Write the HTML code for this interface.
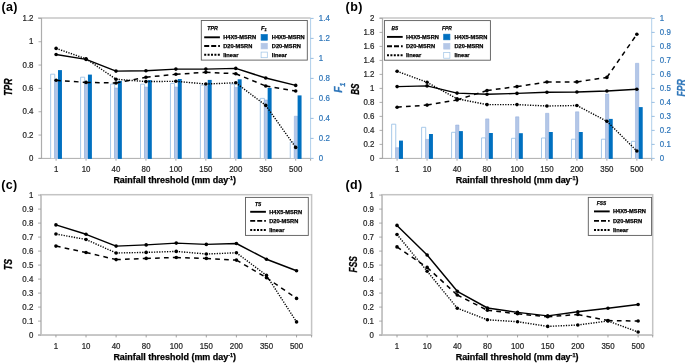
<!DOCTYPE html><html><head><meta charset="utf-8"><style>html,body{margin:0;padding:0;background:#fff;}svg{display:block;will-change:transform;} text{font-family:"Liberation Sans", sans-serif;} .lg{stroke:#000;stroke-width:0.25px;} .nm{stroke-width:0.22px;}</style></head><body>
<svg width="685" height="363" viewBox="0 0 685 363">
<rect width="685" height="363" fill="#fff"/>
<line x1="38" y1="18.1" x2="310.6" y2="18.1" stroke="#D4D4D4" stroke-width="2"/>
<line x1="38.5" y1="158.4" x2="310.6" y2="158.4" stroke="#ADADAD" stroke-width="1.0"/>
<line x1="56.1" y1="158.4" x2="56.1" y2="160.7" stroke="#8C8C8C" stroke-width="0.8"/>
<line x1="86.05" y1="158.4" x2="86.05" y2="160.7" stroke="#8C8C8C" stroke-width="0.8"/>
<line x1="116.0" y1="158.4" x2="116.0" y2="160.7" stroke="#8C8C8C" stroke-width="0.8"/>
<line x1="145.95" y1="158.4" x2="145.95" y2="160.7" stroke="#8C8C8C" stroke-width="0.8"/>
<line x1="175.9" y1="158.4" x2="175.9" y2="160.7" stroke="#8C8C8C" stroke-width="0.8"/>
<line x1="205.85" y1="158.4" x2="205.85" y2="160.7" stroke="#8C8C8C" stroke-width="0.8"/>
<line x1="235.8" y1="158.4" x2="235.8" y2="160.7" stroke="#8C8C8C" stroke-width="0.8"/>
<line x1="265.75" y1="158.4" x2="265.75" y2="160.7" stroke="#8C8C8C" stroke-width="0.8"/>
<line x1="295.7" y1="158.4" x2="295.7" y2="160.7" stroke="#8C8C8C" stroke-width="0.8"/>
<line x1="310.6" y1="158.4" x2="310.6" y2="160.7" stroke="#8C8C8C" stroke-width="0.8"/>
<text class="nm" stroke="#262626" x="56.1" y="172.4" font-size="8.4" fill="#262626" text-anchor="middle" textLength="4.39" lengthAdjust="spacingAndGlyphs">1</text>
<text class="nm" stroke="#262626" x="86.05" y="172.4" font-size="8.4" fill="#262626" text-anchor="middle" textLength="8.78" lengthAdjust="spacingAndGlyphs">10</text>
<text class="nm" stroke="#262626" x="116.0" y="172.4" font-size="8.4" fill="#262626" text-anchor="middle" textLength="8.78" lengthAdjust="spacingAndGlyphs">40</text>
<text class="nm" stroke="#262626" x="145.95" y="172.4" font-size="8.4" fill="#262626" text-anchor="middle" textLength="8.78" lengthAdjust="spacingAndGlyphs">80</text>
<text class="nm" stroke="#262626" x="175.9" y="172.4" font-size="8.4" fill="#262626" text-anchor="middle" textLength="13.18" lengthAdjust="spacingAndGlyphs">100</text>
<text class="nm" stroke="#262626" x="205.85" y="172.4" font-size="8.4" fill="#262626" text-anchor="middle" textLength="13.18" lengthAdjust="spacingAndGlyphs">150</text>
<text class="nm" stroke="#262626" x="235.8" y="172.4" font-size="8.4" fill="#262626" text-anchor="middle" textLength="13.18" lengthAdjust="spacingAndGlyphs">200</text>
<text class="nm" stroke="#262626" x="265.75" y="172.4" font-size="8.4" fill="#262626" text-anchor="middle" textLength="13.18" lengthAdjust="spacingAndGlyphs">350</text>
<text class="nm" stroke="#262626" x="295.7" y="172.4" font-size="8.4" fill="#262626" text-anchor="middle" textLength="13.18" lengthAdjust="spacingAndGlyphs">500</text>
<text x="113.4" y="183.0" font-size="8.6" font-weight="bold" fill="#000" stroke="#000" stroke-width="0.25" textLength="122.6" lengthAdjust="spacingAndGlyphs">Rainfall threshold (mm day<tspan font-size="5.2" dy="-3">-1</tspan><tspan dy="3">)</tspan></text>
<line x1="41.5" y1="158.4" x2="41.5" y2="18.2" stroke="#ADADAD" stroke-width="1.2"/>
<line x1="38.5" y1="158.4" x2="41.5" y2="158.4" stroke="#9A9A9A" stroke-width="0.8"/>
<text class="nm" stroke="#262626" x="33.5" y="161.0" font-size="8.4" fill="#262626" text-anchor="end" textLength="4.39" lengthAdjust="spacingAndGlyphs">0</text>
<line x1="38.5" y1="135.07" x2="41.5" y2="135.07" stroke="#9A9A9A" stroke-width="0.8"/>
<text class="nm" stroke="#262626" x="33.5" y="137.67" font-size="8.4" fill="#262626" text-anchor="end" textLength="10.98" lengthAdjust="spacingAndGlyphs">0.2</text>
<line x1="38.5" y1="111.73" x2="41.5" y2="111.73" stroke="#9A9A9A" stroke-width="0.8"/>
<text class="nm" stroke="#262626" x="33.5" y="114.33" font-size="8.4" fill="#262626" text-anchor="end" textLength="10.98" lengthAdjust="spacingAndGlyphs">0.4</text>
<line x1="38.5" y1="88.4" x2="41.5" y2="88.4" stroke="#9A9A9A" stroke-width="0.8"/>
<text class="nm" stroke="#262626" x="33.5" y="91" font-size="8.4" fill="#262626" text-anchor="end" textLength="10.98" lengthAdjust="spacingAndGlyphs">0.6</text>
<line x1="38.5" y1="65.06" x2="41.5" y2="65.06" stroke="#9A9A9A" stroke-width="0.8"/>
<text class="nm" stroke="#262626" x="33.5" y="67.66" font-size="8.4" fill="#262626" text-anchor="end" textLength="10.98" lengthAdjust="spacingAndGlyphs">0.8</text>
<line x1="38.5" y1="41.73" x2="41.5" y2="41.73" stroke="#9A9A9A" stroke-width="0.8"/>
<text class="nm" stroke="#262626" x="33.5" y="44.33" font-size="8.4" fill="#262626" text-anchor="end" textLength="4.39" lengthAdjust="spacingAndGlyphs">1</text>
<line x1="38.5" y1="18.4" x2="41.5" y2="18.4" stroke="#9A9A9A" stroke-width="0.8"/>
<text class="nm" stroke="#262626" x="33.5" y="21" font-size="8.4" fill="#262626" text-anchor="end" textLength="10.98" lengthAdjust="spacingAndGlyphs">1.2</text>
<line x1="310.6" y1="158.4" x2="310.6" y2="18.2" stroke="#B0CFEA" stroke-width="1"/>
<line x1="310.6" y1="158.4" x2="313.6" y2="158.4" stroke="#8DB8E0" stroke-width="0.9"/>
<text class="nm" stroke="#3077BA" x="318.8" y="161.0" font-size="8.4" fill="#3077BA" textLength="4.39" lengthAdjust="spacingAndGlyphs">0</text>
<line x1="310.6" y1="138.4" x2="313.6" y2="138.4" stroke="#8DB8E0" stroke-width="0.9"/>
<text class="nm" stroke="#3077BA" x="318.8" y="141.0" font-size="8.4" fill="#3077BA" textLength="10.98" lengthAdjust="spacingAndGlyphs">0.2</text>
<line x1="310.6" y1="118.4" x2="313.6" y2="118.4" stroke="#8DB8E0" stroke-width="0.9"/>
<text class="nm" stroke="#3077BA" x="318.8" y="121.0" font-size="8.4" fill="#3077BA" textLength="10.98" lengthAdjust="spacingAndGlyphs">0.4</text>
<line x1="310.6" y1="98.4" x2="313.6" y2="98.4" stroke="#8DB8E0" stroke-width="0.9"/>
<text class="nm" stroke="#3077BA" x="318.8" y="101.0" font-size="8.4" fill="#3077BA" textLength="10.98" lengthAdjust="spacingAndGlyphs">0.6</text>
<line x1="310.6" y1="78.4" x2="313.6" y2="78.4" stroke="#8DB8E0" stroke-width="0.9"/>
<text class="nm" stroke="#3077BA" x="318.8" y="81.0" font-size="8.4" fill="#3077BA" textLength="10.98" lengthAdjust="spacingAndGlyphs">0.8</text>
<line x1="310.6" y1="58.4" x2="313.6" y2="58.4" stroke="#8DB8E0" stroke-width="0.9"/>
<text class="nm" stroke="#3077BA" x="318.8" y="61" font-size="8.4" fill="#3077BA" textLength="4.39" lengthAdjust="spacingAndGlyphs">1</text>
<line x1="310.6" y1="38.4" x2="313.6" y2="38.4" stroke="#8DB8E0" stroke-width="0.9"/>
<text class="nm" stroke="#3077BA" x="318.8" y="41" font-size="8.4" fill="#3077BA" textLength="10.98" lengthAdjust="spacingAndGlyphs">1.2</text>
<line x1="310.6" y1="18.4" x2="313.6" y2="18.4" stroke="#8DB8E0" stroke-width="0.9"/>
<text class="nm" stroke="#3077BA" x="318.8" y="21" font-size="8.4" fill="#3077BA" textLength="10.98" lengthAdjust="spacingAndGlyphs">1.4</text>
<path d="M50.65,158.30V74.2H54.75V158.30" fill="#fff" stroke="#9DC3E6" stroke-width="0.9"/>
<path d="M54.70,158.9V81.0H58.00V158.9Z" fill="#B4C7E7"/>
<path d="M54.70,158.30V81.0H58.00V158.30" fill="none" stroke="#8FAADC" stroke-width="0.5"/>
<rect x="58.0" y="70.1" width="3.95" height="88.8" fill="#0070C0"/>
<path d="M80.60,158.30V77.2H84.70V158.30" fill="#fff" stroke="#9DC3E6" stroke-width="0.9"/>
<path d="M84.65,158.9V83.3H87.95V158.9Z" fill="#B4C7E7"/>
<path d="M84.65,158.30V83.3H87.95V158.30" fill="none" stroke="#8FAADC" stroke-width="0.5"/>
<rect x="87.95" y="74.6" width="3.95" height="84.3" fill="#0070C0"/>
<path d="M110.55,158.30V84.1H114.65V158.30" fill="#fff" stroke="#9DC3E6" stroke-width="0.9"/>
<path d="M114.60,158.9V88.0H117.90V158.9Z" fill="#B4C7E7"/>
<path d="M114.60,158.30V88.0H117.90V158.30" fill="none" stroke="#8FAADC" stroke-width="0.5"/>
<rect x="117.9" y="80.9" width="3.95" height="78.0" fill="#0070C0"/>
<path d="M140.50,158.30V84.2H144.60V158.30" fill="#fff" stroke="#9DC3E6" stroke-width="0.9"/>
<path d="M144.55,158.9V87.1H147.85V158.9Z" fill="#B4C7E7"/>
<path d="M144.55,158.30V87.1H147.85V158.30" fill="none" stroke="#8FAADC" stroke-width="0.5"/>
<rect x="147.85" y="80.1" width="3.95" height="78.8" fill="#0070C0"/>
<path d="M170.45,158.30V83.4H174.55V158.30" fill="#fff" stroke="#9DC3E6" stroke-width="0.9"/>
<path d="M174.50,158.9V87.1H177.80V158.9Z" fill="#B4C7E7"/>
<path d="M174.50,158.30V87.1H177.80V158.30" fill="none" stroke="#8FAADC" stroke-width="0.5"/>
<rect x="177.8" y="79.0" width="3.95" height="79.9" fill="#0070C0"/>
<path d="M200.40,158.30V85.1H204.50V158.30" fill="#fff" stroke="#9DC3E6" stroke-width="0.9"/>
<path d="M204.45,158.9V86.3H207.75V158.9Z" fill="#B4C7E7"/>
<path d="M204.45,158.30V86.3H207.75V158.30" fill="none" stroke="#8FAADC" stroke-width="0.5"/>
<rect x="207.75" y="79.9" width="3.95" height="79.0" fill="#0070C0"/>
<path d="M230.35,158.30V84.0H234.45V158.30" fill="#fff" stroke="#9DC3E6" stroke-width="0.9"/>
<path d="M234.40,158.9V87.4H237.70V158.9Z" fill="#B4C7E7"/>
<path d="M234.40,158.30V87.4H237.70V158.30" fill="none" stroke="#8FAADC" stroke-width="0.5"/>
<rect x="237.7" y="79.3" width="3.95" height="79.6" fill="#0070C0"/>
<path d="M260.30,158.30V98.4H264.40V158.30" fill="#fff" stroke="#9DC3E6" stroke-width="0.9"/>
<path d="M264.35,158.9V100.0H267.65V158.9Z" fill="#B4C7E7"/>
<path d="M264.35,158.30V100.0H267.65V158.30" fill="none" stroke="#8FAADC" stroke-width="0.5"/>
<rect x="267.65" y="87.9" width="3.95" height="71.0" fill="#0070C0"/>
<path d="M290.25,158.30V142.1H294.35V158.30" fill="#fff" stroke="#9DC3E6" stroke-width="0.9"/>
<path d="M294.30,158.9V116.2H297.60V158.9Z" fill="#B4C7E7"/>
<path d="M294.30,158.30V116.2H297.60V158.30" fill="none" stroke="#8FAADC" stroke-width="0.5"/>
<rect x="297.6" y="95.4" width="3.95" height="63.5" fill="#0070C0"/>
<polyline points="56.1,54.5 86.05,59.4 116.0,71.1 145.95,70.7 175.9,69.1 205.85,69.1 235.8,68.4 265.75,78.0 295.7,85.4" fill="none" stroke="#000" stroke-width="1.45" stroke-linejoin="round"/>
<circle cx="56.1" cy="54.5" r="1.8" fill="#000"/>
<circle cx="86.05" cy="59.4" r="1.8" fill="#000"/>
<circle cx="116.0" cy="71.1" r="1.8" fill="#000"/>
<circle cx="145.95" cy="70.7" r="1.8" fill="#000"/>
<circle cx="175.9" cy="69.1" r="1.8" fill="#000"/>
<circle cx="205.85" cy="69.1" r="1.8" fill="#000"/>
<circle cx="235.8" cy="68.4" r="1.8" fill="#000"/>
<circle cx="265.75" cy="78.0" r="1.8" fill="#000"/>
<circle cx="295.7" cy="85.4" r="1.8" fill="#000"/>
<line x1="56.10" y1="80.3" x2="86.05" y2="82.4" stroke="#000" stroke-width="1.5" stroke-dasharray="4.7 4.2"/>
<line x1="86.05" y1="82.4" x2="116.00" y2="83.0" stroke="#000" stroke-width="1.5" stroke-dasharray="4.7 4.2"/>
<line x1="116.00" y1="83.0" x2="145.95" y2="77.2" stroke="#000" stroke-width="1.5" stroke-dasharray="4.7 4.2"/>
<line x1="145.95" y1="77.2" x2="175.90" y2="74.3" stroke="#000" stroke-width="1.5" stroke-dasharray="4.7 4.2"/>
<line x1="175.90" y1="74.3" x2="205.85" y2="72.3" stroke="#000" stroke-width="1.5" stroke-dasharray="4.7 4.2"/>
<line x1="205.85" y1="72.3" x2="235.80" y2="73.7" stroke="#000" stroke-width="1.5" stroke-dasharray="4.7 4.2"/>
<line x1="235.80" y1="73.7" x2="265.75" y2="86.0" stroke="#000" stroke-width="1.5" stroke-dasharray="4.7 4.2"/>
<line x1="265.75" y1="86.0" x2="295.70" y2="91.0" stroke="#000" stroke-width="1.5" stroke-dasharray="4.7 4.2"/>
<circle cx="56.1" cy="80.3" r="1.8" fill="#000"/>
<circle cx="86.05" cy="82.4" r="1.8" fill="#000"/>
<circle cx="116.0" cy="83.0" r="1.8" fill="#000"/>
<circle cx="145.95" cy="77.2" r="1.8" fill="#000"/>
<circle cx="175.9" cy="74.3" r="1.8" fill="#000"/>
<circle cx="205.85" cy="72.3" r="1.8" fill="#000"/>
<circle cx="235.8" cy="73.7" r="1.8" fill="#000"/>
<circle cx="265.75" cy="86.0" r="1.8" fill="#000"/>
<circle cx="295.7" cy="91.0" r="1.8" fill="#000"/>
<line x1="56.10" y1="48.4" x2="86.05" y2="58.8" stroke="#000" stroke-width="1.4" stroke-dasharray="1.25 1.35"/>
<line x1="86.05" y1="58.8" x2="116.00" y2="79.2" stroke="#000" stroke-width="1.4" stroke-dasharray="1.25 1.35"/>
<line x1="116.00" y1="79.2" x2="145.95" y2="81.6" stroke="#000" stroke-width="1.4" stroke-dasharray="1.25 1.35"/>
<line x1="145.95" y1="81.6" x2="175.90" y2="81.3" stroke="#000" stroke-width="1.4" stroke-dasharray="1.25 1.35"/>
<line x1="175.90" y1="81.3" x2="205.85" y2="84.0" stroke="#000" stroke-width="1.4" stroke-dasharray="1.25 1.35"/>
<line x1="205.85" y1="84.0" x2="235.80" y2="82.8" stroke="#000" stroke-width="1.4" stroke-dasharray="1.25 1.35"/>
<line x1="235.80" y1="82.8" x2="265.75" y2="105.4" stroke="#000" stroke-width="1.4" stroke-dasharray="1.25 1.35"/>
<line x1="265.75" y1="105.4" x2="295.70" y2="147.4" stroke="#000" stroke-width="1.4" stroke-dasharray="1.25 1.35"/>
<circle cx="56.1" cy="48.4" r="1.8" fill="#000"/>
<circle cx="86.05" cy="58.8" r="1.8" fill="#000"/>
<circle cx="116.0" cy="79.2" r="1.8" fill="#000"/>
<circle cx="145.95" cy="81.6" r="1.8" fill="#000"/>
<circle cx="175.9" cy="81.3" r="1.8" fill="#000"/>
<circle cx="205.85" cy="84.0" r="1.8" fill="#000"/>
<circle cx="235.8" cy="82.8" r="1.8" fill="#000"/>
<circle cx="265.75" cy="105.4" r="1.8" fill="#000"/>
<circle cx="295.7" cy="147.4" r="1.8" fill="#000"/>
<rect x="201.3" y="20.5" width="106" height="39.6" fill="#fff" stroke="#5A5A5A" stroke-width="0.9"/>
<line x1="204.2" y1="37.3" x2="219.9" y2="37.3" stroke="#000" stroke-width="1.9" />
<text class="lg" x="223.2" y="39.3" font-size="5.7" font-weight="bold" fill="#000">H4X5-MSRN</text>
<line x1="204.2" y1="46.0" x2="219.9" y2="46.0" stroke="#000" stroke-width="1.9" stroke-dasharray="5 2"/>
<text class="lg" x="223.2" y="48.0" font-size="5.7" font-weight="bold" fill="#000">D20-MSRN</text>
<line x1="204.2" y1="54.8" x2="219.9" y2="54.8" stroke="#000" stroke-width="1.9" stroke-dasharray="2 1.4"/>
<text class="lg" x="223.2" y="56.8" font-size="5.7" font-weight="bold" fill="#000">linear</text>
<text x="207.3" y="30.00" font-size="5.8" font-weight="bold" font-style="italic" fill="#000" class="lg" textLength="10.6" lengthAdjust="spacingAndGlyphs">TPR</text>
<rect x="261.1" y="34.6" width="6.2" height="5.6" fill="#0070C0" stroke="#0070C0" stroke-width="0.7"/>
<text class="lg" x="271.8" y="39.3" font-size="5.7" font-weight="bold" fill="#000">H4X5-MSRN</text>
<rect x="261.1" y="43.3" width="6.2" height="5.6" fill="#B4C7E7" stroke="#B4C7E7" stroke-width="0.7"/>
<text class="lg" x="271.8" y="48.0" font-size="5.7" font-weight="bold" fill="#000">D20-MSRN</text>
<rect x="261.1" y="52.1" width="6.2" height="5.6" fill="#fff" stroke="#9DC3E6" stroke-width="0.7"/>
<text class="lg" x="271.8" y="56.8" font-size="5.7" font-weight="bold" fill="#000">linear</text>
<text x="261.0" y="30.00" font-size="5.8" font-weight="bold" font-style="italic" fill="#000" class="lg">F<tspan font-size="3.9" dy="1.3">1</tspan></text>
<text transform="translate(8.0,87.2) rotate(-90)" font-size="10.4" font-weight="bold" font-style="italic" fill="#000" stroke="#000" stroke-width="0.3" text-anchor="middle" dominant-baseline="central" textLength="17.2" lengthAdjust="spacingAndGlyphs">TPR</text>
<text transform="translate(338.1,87.8) rotate(-90)" font-size="10.4" font-weight="bold" font-style="italic" fill="#3077BA" stroke="#3077BA" stroke-width="0.3" text-anchor="middle" dominant-baseline="central">F<tspan font-size="6.76" dy="3.5">1</tspan></text>
<text x="1.4" y="10.8" font-size="12.5" font-weight="bold" letter-spacing="0.4" fill="#000">(a)</text>
<line x1="379.5" y1="18.1" x2="651.7" y2="18.1" stroke="#D4D4D4" stroke-width="2"/>
<line x1="379.5" y1="158.4" x2="651.7" y2="158.4" stroke="#ADADAD" stroke-width="1.0"/>
<line x1="397.1" y1="158.4" x2="397.1" y2="160.7" stroke="#8C8C8C" stroke-width="0.8"/>
<line x1="427.07" y1="158.4" x2="427.07" y2="160.7" stroke="#8C8C8C" stroke-width="0.8"/>
<line x1="457.04" y1="158.4" x2="457.04" y2="160.7" stroke="#8C8C8C" stroke-width="0.8"/>
<line x1="487.01" y1="158.4" x2="487.01" y2="160.7" stroke="#8C8C8C" stroke-width="0.8"/>
<line x1="516.98" y1="158.4" x2="516.98" y2="160.7" stroke="#8C8C8C" stroke-width="0.8"/>
<line x1="546.95" y1="158.4" x2="546.95" y2="160.7" stroke="#8C8C8C" stroke-width="0.8"/>
<line x1="576.92" y1="158.4" x2="576.92" y2="160.7" stroke="#8C8C8C" stroke-width="0.8"/>
<line x1="606.89" y1="158.4" x2="606.89" y2="160.7" stroke="#8C8C8C" stroke-width="0.8"/>
<line x1="636.86" y1="158.4" x2="636.86" y2="160.7" stroke="#8C8C8C" stroke-width="0.8"/>
<line x1="651.7" y1="158.4" x2="651.7" y2="160.7" stroke="#8C8C8C" stroke-width="0.8"/>
<text class="nm" stroke="#262626" x="397.1" y="172.4" font-size="8.4" fill="#262626" text-anchor="middle" textLength="4.39" lengthAdjust="spacingAndGlyphs">1</text>
<text class="nm" stroke="#262626" x="427.07" y="172.4" font-size="8.4" fill="#262626" text-anchor="middle" textLength="8.78" lengthAdjust="spacingAndGlyphs">10</text>
<text class="nm" stroke="#262626" x="457.04" y="172.4" font-size="8.4" fill="#262626" text-anchor="middle" textLength="8.78" lengthAdjust="spacingAndGlyphs">40</text>
<text class="nm" stroke="#262626" x="487.01" y="172.4" font-size="8.4" fill="#262626" text-anchor="middle" textLength="8.78" lengthAdjust="spacingAndGlyphs">80</text>
<text class="nm" stroke="#262626" x="516.98" y="172.4" font-size="8.4" fill="#262626" text-anchor="middle" textLength="13.18" lengthAdjust="spacingAndGlyphs">100</text>
<text class="nm" stroke="#262626" x="546.95" y="172.4" font-size="8.4" fill="#262626" text-anchor="middle" textLength="13.18" lengthAdjust="spacingAndGlyphs">150</text>
<text class="nm" stroke="#262626" x="576.92" y="172.4" font-size="8.4" fill="#262626" text-anchor="middle" textLength="13.18" lengthAdjust="spacingAndGlyphs">200</text>
<text class="nm" stroke="#262626" x="606.89" y="172.4" font-size="8.4" fill="#262626" text-anchor="middle" textLength="13.18" lengthAdjust="spacingAndGlyphs">350</text>
<text class="nm" stroke="#262626" x="636.86" y="172.4" font-size="8.4" fill="#262626" text-anchor="middle" textLength="13.18" lengthAdjust="spacingAndGlyphs">500</text>
<text x="455.8" y="183.1" font-size="8.6" font-weight="bold" fill="#000" stroke="#000" stroke-width="0.25" textLength="122.6" lengthAdjust="spacingAndGlyphs">Rainfall threshold (mm day<tspan font-size="5.2" dy="-3">-1</tspan><tspan dy="3">)</tspan></text>
<line x1="382.5" y1="158.4" x2="382.5" y2="18.2" stroke="#ADADAD" stroke-width="1.2"/>
<line x1="379.5" y1="158.4" x2="382.5" y2="158.4" stroke="#9A9A9A" stroke-width="0.8"/>
<text class="nm" stroke="#262626" x="374.4" y="161.0" font-size="8.4" fill="#262626" text-anchor="end" textLength="4.39" lengthAdjust="spacingAndGlyphs">0</text>
<line x1="379.5" y1="144.4" x2="382.5" y2="144.4" stroke="#9A9A9A" stroke-width="0.8"/>
<text class="nm" stroke="#262626" x="374.4" y="147.0" font-size="8.4" fill="#262626" text-anchor="end" textLength="10.98" lengthAdjust="spacingAndGlyphs">0.2</text>
<line x1="379.5" y1="130.4" x2="382.5" y2="130.4" stroke="#9A9A9A" stroke-width="0.8"/>
<text class="nm" stroke="#262626" x="374.4" y="133.0" font-size="8.4" fill="#262626" text-anchor="end" textLength="10.98" lengthAdjust="spacingAndGlyphs">0.4</text>
<line x1="379.5" y1="116.4" x2="382.5" y2="116.4" stroke="#9A9A9A" stroke-width="0.8"/>
<text class="nm" stroke="#262626" x="374.4" y="119.0" font-size="8.4" fill="#262626" text-anchor="end" textLength="10.98" lengthAdjust="spacingAndGlyphs">0.6</text>
<line x1="379.5" y1="102.4" x2="382.5" y2="102.4" stroke="#9A9A9A" stroke-width="0.8"/>
<text class="nm" stroke="#262626" x="374.4" y="105.0" font-size="8.4" fill="#262626" text-anchor="end" textLength="10.98" lengthAdjust="spacingAndGlyphs">0.8</text>
<line x1="379.5" y1="88.4" x2="382.5" y2="88.4" stroke="#9A9A9A" stroke-width="0.8"/>
<text class="nm" stroke="#262626" x="374.4" y="91.0" font-size="8.4" fill="#262626" text-anchor="end" textLength="4.39" lengthAdjust="spacingAndGlyphs">1</text>
<line x1="379.5" y1="74.4" x2="382.5" y2="74.4" stroke="#9A9A9A" stroke-width="0.8"/>
<text class="nm" stroke="#262626" x="374.4" y="77" font-size="8.4" fill="#262626" text-anchor="end" textLength="10.98" lengthAdjust="spacingAndGlyphs">1.2</text>
<line x1="379.5" y1="60.4" x2="382.5" y2="60.4" stroke="#9A9A9A" stroke-width="0.8"/>
<text class="nm" stroke="#262626" x="374.4" y="63" font-size="8.4" fill="#262626" text-anchor="end" textLength="10.98" lengthAdjust="spacingAndGlyphs">1.4</text>
<line x1="379.5" y1="46.4" x2="382.5" y2="46.4" stroke="#9A9A9A" stroke-width="0.8"/>
<text class="nm" stroke="#262626" x="374.4" y="49" font-size="8.4" fill="#262626" text-anchor="end" textLength="10.98" lengthAdjust="spacingAndGlyphs">1.6</text>
<line x1="379.5" y1="32.4" x2="382.5" y2="32.4" stroke="#9A9A9A" stroke-width="0.8"/>
<text class="nm" stroke="#262626" x="374.4" y="35" font-size="8.4" fill="#262626" text-anchor="end" textLength="10.98" lengthAdjust="spacingAndGlyphs">1.8</text>
<line x1="379.5" y1="18.4" x2="382.5" y2="18.4" stroke="#9A9A9A" stroke-width="0.8"/>
<text class="nm" stroke="#262626" x="374.4" y="21" font-size="8.4" fill="#262626" text-anchor="end" textLength="4.39" lengthAdjust="spacingAndGlyphs">2</text>
<line x1="651.7" y1="158.4" x2="651.7" y2="18.2" stroke="#B0CFEA" stroke-width="1"/>
<line x1="651.7" y1="158.4" x2="654.7" y2="158.4" stroke="#8DB8E0" stroke-width="0.9"/>
<text class="nm" stroke="#3077BA" x="659.8" y="161.0" font-size="8.4" fill="#3077BA" textLength="4.39" lengthAdjust="spacingAndGlyphs">0</text>
<line x1="651.7" y1="144.4" x2="654.7" y2="144.4" stroke="#8DB8E0" stroke-width="0.9"/>
<text class="nm" stroke="#3077BA" x="659.8" y="147.0" font-size="8.4" fill="#3077BA" textLength="10.98" lengthAdjust="spacingAndGlyphs">0.1</text>
<line x1="651.7" y1="130.4" x2="654.7" y2="130.4" stroke="#8DB8E0" stroke-width="0.9"/>
<text class="nm" stroke="#3077BA" x="659.8" y="133.0" font-size="8.4" fill="#3077BA" textLength="10.98" lengthAdjust="spacingAndGlyphs">0.2</text>
<line x1="651.7" y1="116.4" x2="654.7" y2="116.4" stroke="#8DB8E0" stroke-width="0.9"/>
<text class="nm" stroke="#3077BA" x="659.8" y="119.0" font-size="8.4" fill="#3077BA" textLength="10.98" lengthAdjust="spacingAndGlyphs">0.3</text>
<line x1="651.7" y1="102.4" x2="654.7" y2="102.4" stroke="#8DB8E0" stroke-width="0.9"/>
<text class="nm" stroke="#3077BA" x="659.8" y="105.0" font-size="8.4" fill="#3077BA" textLength="10.98" lengthAdjust="spacingAndGlyphs">0.4</text>
<line x1="651.7" y1="88.4" x2="654.7" y2="88.4" stroke="#8DB8E0" stroke-width="0.9"/>
<text class="nm" stroke="#3077BA" x="659.8" y="91.0" font-size="8.4" fill="#3077BA" textLength="10.98" lengthAdjust="spacingAndGlyphs">0.5</text>
<line x1="651.7" y1="74.4" x2="654.7" y2="74.4" stroke="#8DB8E0" stroke-width="0.9"/>
<text class="nm" stroke="#3077BA" x="659.8" y="77" font-size="8.4" fill="#3077BA" textLength="10.98" lengthAdjust="spacingAndGlyphs">0.6</text>
<line x1="651.7" y1="60.4" x2="654.7" y2="60.4" stroke="#8DB8E0" stroke-width="0.9"/>
<text class="nm" stroke="#3077BA" x="659.8" y="63" font-size="8.4" fill="#3077BA" textLength="10.98" lengthAdjust="spacingAndGlyphs">0.7</text>
<line x1="651.7" y1="46.4" x2="654.7" y2="46.4" stroke="#8DB8E0" stroke-width="0.9"/>
<text class="nm" stroke="#3077BA" x="659.8" y="49" font-size="8.4" fill="#3077BA" textLength="10.98" lengthAdjust="spacingAndGlyphs">0.8</text>
<line x1="651.7" y1="32.4" x2="654.7" y2="32.4" stroke="#8DB8E0" stroke-width="0.9"/>
<text class="nm" stroke="#3077BA" x="659.8" y="35" font-size="8.4" fill="#3077BA" textLength="10.98" lengthAdjust="spacingAndGlyphs">0.9</text>
<line x1="651.7" y1="18.4" x2="654.7" y2="18.4" stroke="#8DB8E0" stroke-width="0.9"/>
<text class="nm" stroke="#3077BA" x="659.8" y="21" font-size="8.4" fill="#3077BA" textLength="4.39" lengthAdjust="spacingAndGlyphs">1</text>
<path d="M391.65,158.30V124.2H395.75V158.30" fill="#fff" stroke="#9DC3E6" stroke-width="0.9"/>
<path d="M395.70,158.9V147.7H399.00V158.9Z" fill="#B4C7E7"/>
<path d="M395.70,158.30V147.7H399.00V158.30" fill="none" stroke="#8FAADC" stroke-width="0.5"/>
<rect x="399.0" y="140.6" width="3.95" height="18.3" fill="#0070C0"/>
<path d="M421.62,158.30V127.3H425.72V158.30" fill="#fff" stroke="#9DC3E6" stroke-width="0.9"/>
<path d="M425.67,158.9V139.4H428.97V158.9Z" fill="#B4C7E7"/>
<path d="M425.67,158.30V139.4H428.97V158.30" fill="none" stroke="#8FAADC" stroke-width="0.5"/>
<rect x="428.97" y="134.0" width="3.95" height="24.9" fill="#0070C0"/>
<path d="M451.59,158.30V132.3H455.69V158.30" fill="#fff" stroke="#9DC3E6" stroke-width="0.9"/>
<path d="M455.64,158.9V125.0H458.94V158.9Z" fill="#B4C7E7"/>
<path d="M455.64,158.30V125.0H458.94V158.30" fill="none" stroke="#8FAADC" stroke-width="0.5"/>
<rect x="458.94" y="131.1" width="3.95" height="27.8" fill="#0070C0"/>
<path d="M481.56,158.30V137.9H485.66V158.30" fill="#fff" stroke="#9DC3E6" stroke-width="0.9"/>
<path d="M485.61,158.9V118.9H488.91V158.9Z" fill="#B4C7E7"/>
<path d="M485.61,158.30V118.9H488.91V158.30" fill="none" stroke="#8FAADC" stroke-width="0.5"/>
<rect x="488.91" y="133.0" width="3.95" height="25.9" fill="#0070C0"/>
<path d="M511.53,158.30V138.3H515.63V158.30" fill="#fff" stroke="#9DC3E6" stroke-width="0.9"/>
<path d="M515.58,158.9V116.8H518.88V158.9Z" fill="#B4C7E7"/>
<path d="M515.58,158.30V116.8H518.88V158.30" fill="none" stroke="#8FAADC" stroke-width="0.5"/>
<rect x="518.88" y="133.2" width="3.95" height="25.7" fill="#0070C0"/>
<path d="M541.50,158.30V138.0H545.60V158.30" fill="#fff" stroke="#9DC3E6" stroke-width="0.9"/>
<path d="M545.55,158.9V113.3H548.85V158.9Z" fill="#B4C7E7"/>
<path d="M545.55,158.30V113.3H548.85V158.30" fill="none" stroke="#8FAADC" stroke-width="0.5"/>
<rect x="548.85" y="132.0" width="3.95" height="26.9" fill="#0070C0"/>
<path d="M571.47,158.30V139.2H575.57V158.30" fill="#fff" stroke="#9DC3E6" stroke-width="0.9"/>
<path d="M575.52,158.9V111.8H578.82V158.9Z" fill="#B4C7E7"/>
<path d="M575.52,158.30V111.8H578.82V158.30" fill="none" stroke="#8FAADC" stroke-width="0.5"/>
<rect x="578.82" y="132.0" width="3.95" height="26.9" fill="#0070C0"/>
<path d="M601.44,158.30V139.2H605.54V158.30" fill="#fff" stroke="#9DC3E6" stroke-width="0.9"/>
<path d="M605.49,158.9V94.0H608.79V158.9Z" fill="#B4C7E7"/>
<path d="M605.49,158.30V94.0H608.79V158.30" fill="none" stroke="#8FAADC" stroke-width="0.5"/>
<rect x="608.79" y="118.9" width="3.95" height="40.0" fill="#0070C0"/>
<path d="M631.41,158.30V141.3H635.51V158.30" fill="#fff" stroke="#9DC3E6" stroke-width="0.9"/>
<path d="M635.46,158.9V63.3H638.76V158.9Z" fill="#B4C7E7"/>
<path d="M635.46,158.30V63.3H638.76V158.30" fill="none" stroke="#8FAADC" stroke-width="0.5"/>
<rect x="638.76" y="107.1" width="3.95" height="51.8" fill="#0070C0"/>
<polyline points="397.1,86.6 427.07,85.9 457.04,93.1 487.01,94.3 516.98,93.4 546.95,92.3 576.92,92.0 606.89,91.0 636.86,89.3" fill="none" stroke="#000" stroke-width="1.45" stroke-linejoin="round"/>
<circle cx="397.1" cy="86.6" r="1.8" fill="#000"/>
<circle cx="427.07" cy="85.9" r="1.8" fill="#000"/>
<circle cx="457.04" cy="93.1" r="1.8" fill="#000"/>
<circle cx="487.01" cy="94.3" r="1.8" fill="#000"/>
<circle cx="516.98" cy="93.4" r="1.8" fill="#000"/>
<circle cx="546.95" cy="92.3" r="1.8" fill="#000"/>
<circle cx="576.92" cy="92.0" r="1.8" fill="#000"/>
<circle cx="606.89" cy="91.0" r="1.8" fill="#000"/>
<circle cx="636.86" cy="89.3" r="1.8" fill="#000"/>
<line x1="397.10" y1="107.2" x2="427.07" y2="105.1" stroke="#000" stroke-width="1.5" stroke-dasharray="4.7 4.2"/>
<line x1="427.07" y1="105.1" x2="457.04" y2="100.0" stroke="#000" stroke-width="1.5" stroke-dasharray="4.7 4.2"/>
<line x1="457.04" y1="100.0" x2="487.01" y2="90.5" stroke="#000" stroke-width="1.5" stroke-dasharray="4.7 4.2"/>
<line x1="487.01" y1="90.5" x2="516.98" y2="86.6" stroke="#000" stroke-width="1.5" stroke-dasharray="4.7 4.2"/>
<line x1="516.98" y1="86.6" x2="546.95" y2="82.0" stroke="#000" stroke-width="1.5" stroke-dasharray="4.7 4.2"/>
<line x1="546.95" y1="82.0" x2="576.92" y2="81.9" stroke="#000" stroke-width="1.5" stroke-dasharray="4.7 4.2"/>
<line x1="576.92" y1="81.9" x2="606.89" y2="77.4" stroke="#000" stroke-width="1.5" stroke-dasharray="4.7 4.2"/>
<line x1="606.89" y1="77.4" x2="636.86" y2="34.3" stroke="#000" stroke-width="1.5" stroke-dasharray="4.7 4.2"/>
<circle cx="397.1" cy="107.2" r="1.8" fill="#000"/>
<circle cx="427.07" cy="105.1" r="1.8" fill="#000"/>
<circle cx="457.04" cy="100.0" r="1.8" fill="#000"/>
<circle cx="487.01" cy="90.5" r="1.8" fill="#000"/>
<circle cx="516.98" cy="86.6" r="1.8" fill="#000"/>
<circle cx="546.95" cy="82.0" r="1.8" fill="#000"/>
<circle cx="576.92" cy="81.9" r="1.8" fill="#000"/>
<circle cx="606.89" cy="77.4" r="1.8" fill="#000"/>
<circle cx="636.86" cy="34.3" r="1.8" fill="#000"/>
<line x1="397.10" y1="71.3" x2="427.07" y2="82.3" stroke="#000" stroke-width="1.4" stroke-dasharray="1.25 1.35"/>
<line x1="427.07" y1="82.3" x2="457.04" y2="98.7" stroke="#000" stroke-width="1.4" stroke-dasharray="1.25 1.35"/>
<line x1="457.04" y1="98.7" x2="487.01" y2="104.6" stroke="#000" stroke-width="1.4" stroke-dasharray="1.25 1.35"/>
<line x1="487.01" y1="104.6" x2="516.98" y2="104.6" stroke="#000" stroke-width="1.4" stroke-dasharray="1.25 1.35"/>
<line x1="516.98" y1="104.6" x2="546.95" y2="106.0" stroke="#000" stroke-width="1.4" stroke-dasharray="1.25 1.35"/>
<line x1="546.95" y1="106.0" x2="576.92" y2="105.5" stroke="#000" stroke-width="1.4" stroke-dasharray="1.25 1.35"/>
<line x1="576.92" y1="105.5" x2="606.89" y2="121.3" stroke="#000" stroke-width="1.4" stroke-dasharray="1.25 1.35"/>
<line x1="606.89" y1="121.3" x2="636.86" y2="151.0" stroke="#000" stroke-width="1.4" stroke-dasharray="1.25 1.35"/>
<circle cx="397.1" cy="71.3" r="1.8" fill="#000"/>
<circle cx="427.07" cy="82.3" r="1.8" fill="#000"/>
<circle cx="457.04" cy="98.7" r="1.8" fill="#000"/>
<circle cx="487.01" cy="104.6" r="1.8" fill="#000"/>
<circle cx="516.98" cy="104.6" r="1.8" fill="#000"/>
<circle cx="546.95" cy="106.0" r="1.8" fill="#000"/>
<circle cx="576.92" cy="105.5" r="1.8" fill="#000"/>
<circle cx="606.89" cy="121.3" r="1.8" fill="#000"/>
<circle cx="636.86" cy="151.0" r="1.8" fill="#000"/>
<rect x="384.4" y="20.6" width="106" height="39.6" fill="#fff" stroke="#5A5A5A" stroke-width="0.9"/>
<line x1="387.0" y1="36.9" x2="402.7" y2="36.9" stroke="#000" stroke-width="1.9" />
<text class="lg" x="406.0" y="38.9" font-size="5.7" font-weight="bold" fill="#000">H4X5-MSRN</text>
<line x1="387.0" y1="46.2" x2="402.7" y2="46.2" stroke="#000" stroke-width="1.9" stroke-dasharray="5 2"/>
<text class="lg" x="406.0" y="48.2" font-size="5.7" font-weight="bold" fill="#000">D20-MSRN</text>
<line x1="387.0" y1="55.3" x2="402.7" y2="55.3" stroke="#000" stroke-width="1.9" stroke-dasharray="2 1.4"/>
<text class="lg" x="406.0" y="57.3" font-size="5.7" font-weight="bold" fill="#000">linear</text>
<text x="391.6" y="29.70" font-size="5.8" font-weight="bold" font-style="italic" fill="#000" class="lg" textLength="6.7" lengthAdjust="spacingAndGlyphs">BS</text>
<rect x="443.7" y="34.2" width="6.2" height="5.6" fill="#0070C0" stroke="#0070C0" stroke-width="0.7"/>
<text class="lg" x="454.4" y="38.9" font-size="5.7" font-weight="bold" fill="#000">H4X5-MSRN</text>
<rect x="443.7" y="43.5" width="6.2" height="5.6" fill="#B4C7E7" stroke="#B4C7E7" stroke-width="0.7"/>
<text class="lg" x="454.4" y="48.2" font-size="5.7" font-weight="bold" fill="#000">D20-MSRN</text>
<rect x="443.7" y="52.6" width="6.2" height="5.6" fill="#fff" stroke="#9DC3E6" stroke-width="0.7"/>
<text class="lg" x="454.4" y="57.3" font-size="5.7" font-weight="bold" fill="#000">linear</text>
<text x="441.9" y="29.70" font-size="5.8" font-weight="bold" font-style="italic" fill="#000" class="lg" textLength="9.8" lengthAdjust="spacingAndGlyphs">FPR</text>
<text transform="translate(355.9,89.2) rotate(-90)" font-size="10.4" font-weight="bold" font-style="italic" fill="#000" stroke="#000" stroke-width="0.3" text-anchor="middle" dominant-baseline="central" textLength="11.2" lengthAdjust="spacingAndGlyphs">BS</text>
<text transform="translate(681.1,87.9) rotate(-90)" font-size="10.4" font-weight="bold" font-style="italic" fill="#3077BA" stroke="#3077BA" stroke-width="0.3" text-anchor="middle" dominant-baseline="central" textLength="17.2" lengthAdjust="spacingAndGlyphs">FPR</text>
<text x="345.6" y="10.8" font-size="12.5" font-weight="bold" letter-spacing="0.4" fill="#000">(b)</text>
<rect x="41.0" y="194.7" width="270.6" height="140.4" fill="none" stroke="#C4C4C4" stroke-width="1.5"/>
<line x1="38.0" y1="335.1" x2="311.6" y2="335.1" stroke="#C4C4C4" stroke-width="1.5"/>
<line x1="55.95" y1="335.1" x2="55.95" y2="337.4" stroke="#8C8C8C" stroke-width="0.8"/>
<line x1="86.03" y1="335.1" x2="86.03" y2="337.4" stroke="#8C8C8C" stroke-width="0.8"/>
<line x1="116.1" y1="335.1" x2="116.1" y2="337.4" stroke="#8C8C8C" stroke-width="0.8"/>
<line x1="146.18" y1="335.1" x2="146.18" y2="337.4" stroke="#8C8C8C" stroke-width="0.8"/>
<line x1="176.25" y1="335.1" x2="176.25" y2="337.4" stroke="#8C8C8C" stroke-width="0.8"/>
<line x1="206.32" y1="335.1" x2="206.32" y2="337.4" stroke="#8C8C8C" stroke-width="0.8"/>
<line x1="236.4" y1="335.1" x2="236.4" y2="337.4" stroke="#8C8C8C" stroke-width="0.8"/>
<line x1="266.48" y1="335.1" x2="266.48" y2="337.4" stroke="#8C8C8C" stroke-width="0.8"/>
<line x1="296.55" y1="335.1" x2="296.55" y2="337.4" stroke="#8C8C8C" stroke-width="0.8"/>
<line x1="311.6" y1="335.1" x2="311.6" y2="337.4" stroke="#8C8C8C" stroke-width="0.8"/>
<text class="nm" stroke="#262626" x="55.95" y="349.2" font-size="8.4" fill="#262626" text-anchor="middle" textLength="4.39" lengthAdjust="spacingAndGlyphs">1</text>
<text class="nm" stroke="#262626" x="86.03" y="349.2" font-size="8.4" fill="#262626" text-anchor="middle" textLength="8.78" lengthAdjust="spacingAndGlyphs">10</text>
<text class="nm" stroke="#262626" x="116.1" y="349.2" font-size="8.4" fill="#262626" text-anchor="middle" textLength="8.78" lengthAdjust="spacingAndGlyphs">40</text>
<text class="nm" stroke="#262626" x="146.18" y="349.2" font-size="8.4" fill="#262626" text-anchor="middle" textLength="8.78" lengthAdjust="spacingAndGlyphs">80</text>
<text class="nm" stroke="#262626" x="176.25" y="349.2" font-size="8.4" fill="#262626" text-anchor="middle" textLength="13.18" lengthAdjust="spacingAndGlyphs">100</text>
<text class="nm" stroke="#262626" x="206.32" y="349.2" font-size="8.4" fill="#262626" text-anchor="middle" textLength="13.18" lengthAdjust="spacingAndGlyphs">150</text>
<text class="nm" stroke="#262626" x="236.4" y="349.2" font-size="8.4" fill="#262626" text-anchor="middle" textLength="13.18" lengthAdjust="spacingAndGlyphs">200</text>
<text class="nm" stroke="#262626" x="266.48" y="349.2" font-size="8.4" fill="#262626" text-anchor="middle" textLength="13.18" lengthAdjust="spacingAndGlyphs">350</text>
<text class="nm" stroke="#262626" x="296.55" y="349.2" font-size="8.4" fill="#262626" text-anchor="middle" textLength="13.18" lengthAdjust="spacingAndGlyphs">500</text>
<text x="113.4" y="359.8" font-size="8.6" font-weight="bold" fill="#000" stroke="#000" stroke-width="0.25" textLength="122.6" lengthAdjust="spacingAndGlyphs">Rainfall threshold (mm day<tspan font-size="5.2" dy="-3">-1</tspan><tspan dy="3">)</tspan></text>
<line x1="41.0" y1="335.1" x2="41.0" y2="194.7" stroke="#C4C4C4" stroke-width="1.5"/>
<line x1="38.0" y1="335.1" x2="41.0" y2="335.1" stroke="#9A9A9A" stroke-width="0.8"/>
<text class="nm" stroke="#262626" x="33.3" y="337.7" font-size="8.4" fill="#262626" text-anchor="end" textLength="4.39" lengthAdjust="spacingAndGlyphs">0</text>
<line x1="38.0" y1="321.1" x2="41.0" y2="321.1" stroke="#9A9A9A" stroke-width="0.8"/>
<text class="nm" stroke="#262626" x="33.3" y="323.7" font-size="8.4" fill="#262626" text-anchor="end" textLength="10.98" lengthAdjust="spacingAndGlyphs">0.1</text>
<line x1="38.0" y1="307.1" x2="41.0" y2="307.1" stroke="#9A9A9A" stroke-width="0.8"/>
<text class="nm" stroke="#262626" x="33.3" y="309.7" font-size="8.4" fill="#262626" text-anchor="end" textLength="10.98" lengthAdjust="spacingAndGlyphs">0.2</text>
<line x1="38.0" y1="293.1" x2="41.0" y2="293.1" stroke="#9A9A9A" stroke-width="0.8"/>
<text class="nm" stroke="#262626" x="33.3" y="295.7" font-size="8.4" fill="#262626" text-anchor="end" textLength="10.98" lengthAdjust="spacingAndGlyphs">0.3</text>
<line x1="38.0" y1="279.1" x2="41.0" y2="279.1" stroke="#9A9A9A" stroke-width="0.8"/>
<text class="nm" stroke="#262626" x="33.3" y="281.7" font-size="8.4" fill="#262626" text-anchor="end" textLength="10.98" lengthAdjust="spacingAndGlyphs">0.4</text>
<line x1="38.0" y1="265.1" x2="41.0" y2="265.1" stroke="#9A9A9A" stroke-width="0.8"/>
<text class="nm" stroke="#262626" x="33.3" y="267.7" font-size="8.4" fill="#262626" text-anchor="end" textLength="10.98" lengthAdjust="spacingAndGlyphs">0.5</text>
<line x1="38.0" y1="251.1" x2="41.0" y2="251.1" stroke="#9A9A9A" stroke-width="0.8"/>
<text class="nm" stroke="#262626" x="33.3" y="253.7" font-size="8.4" fill="#262626" text-anchor="end" textLength="10.98" lengthAdjust="spacingAndGlyphs">0.6</text>
<line x1="38.0" y1="237.1" x2="41.0" y2="237.1" stroke="#9A9A9A" stroke-width="0.8"/>
<text class="nm" stroke="#262626" x="33.3" y="239.7" font-size="8.4" fill="#262626" text-anchor="end" textLength="10.98" lengthAdjust="spacingAndGlyphs">0.7</text>
<line x1="38.0" y1="223.1" x2="41.0" y2="223.1" stroke="#9A9A9A" stroke-width="0.8"/>
<text class="nm" stroke="#262626" x="33.3" y="225.7" font-size="8.4" fill="#262626" text-anchor="end" textLength="10.98" lengthAdjust="spacingAndGlyphs">0.8</text>
<line x1="38.0" y1="209.1" x2="41.0" y2="209.1" stroke="#9A9A9A" stroke-width="0.8"/>
<text class="nm" stroke="#262626" x="33.3" y="211.7" font-size="8.4" fill="#262626" text-anchor="end" textLength="10.98" lengthAdjust="spacingAndGlyphs">0.9</text>
<line x1="38.0" y1="195.1" x2="41.0" y2="195.1" stroke="#9A9A9A" stroke-width="0.8"/>
<text class="nm" stroke="#262626" x="33.3" y="197.7" font-size="8.4" fill="#262626" text-anchor="end" textLength="4.39" lengthAdjust="spacingAndGlyphs">1</text>
<polyline points="55.95,224.9 86.03,234.3 116.1,246.1 146.18,244.9 176.25,243.1 206.32,244.4 236.4,243.5 266.48,259.2 296.55,270.8" fill="none" stroke="#000" stroke-width="1.45" stroke-linejoin="round"/>
<circle cx="55.95" cy="224.9" r="1.8" fill="#000"/>
<circle cx="86.03" cy="234.3" r="1.8" fill="#000"/>
<circle cx="116.1" cy="246.1" r="1.8" fill="#000"/>
<circle cx="146.18" cy="244.9" r="1.8" fill="#000"/>
<circle cx="176.25" cy="243.1" r="1.8" fill="#000"/>
<circle cx="206.32" cy="244.4" r="1.8" fill="#000"/>
<circle cx="236.4" cy="243.5" r="1.8" fill="#000"/>
<circle cx="266.48" cy="259.2" r="1.8" fill="#000"/>
<circle cx="296.55" cy="270.8" r="1.8" fill="#000"/>
<line x1="55.95" y1="246.1" x2="86.03" y2="252.5" stroke="#000" stroke-width="1.5" stroke-dasharray="4.7 4.2"/>
<line x1="86.03" y1="252.5" x2="116.10" y2="259.6" stroke="#000" stroke-width="1.5" stroke-dasharray="4.7 4.2"/>
<line x1="116.10" y1="259.6" x2="146.18" y2="258.4" stroke="#000" stroke-width="1.5" stroke-dasharray="4.7 4.2"/>
<line x1="146.18" y1="258.4" x2="176.25" y2="257.5" stroke="#000" stroke-width="1.5" stroke-dasharray="4.7 4.2"/>
<line x1="176.25" y1="257.5" x2="206.32" y2="258.4" stroke="#000" stroke-width="1.5" stroke-dasharray="4.7 4.2"/>
<line x1="206.32" y1="258.4" x2="236.40" y2="260.1" stroke="#000" stroke-width="1.5" stroke-dasharray="4.7 4.2"/>
<line x1="236.40" y1="260.1" x2="266.48" y2="277.7" stroke="#000" stroke-width="1.5" stroke-dasharray="4.7 4.2"/>
<line x1="266.48" y1="277.7" x2="296.55" y2="298.4" stroke="#000" stroke-width="1.5" stroke-dasharray="4.7 4.2"/>
<circle cx="55.95" cy="246.1" r="1.8" fill="#000"/>
<circle cx="86.03" cy="252.5" r="1.8" fill="#000"/>
<circle cx="116.1" cy="259.6" r="1.8" fill="#000"/>
<circle cx="146.18" cy="258.4" r="1.8" fill="#000"/>
<circle cx="176.25" cy="257.5" r="1.8" fill="#000"/>
<circle cx="206.32" cy="258.4" r="1.8" fill="#000"/>
<circle cx="236.4" cy="260.1" r="1.8" fill="#000"/>
<circle cx="266.48" cy="277.7" r="1.8" fill="#000"/>
<circle cx="296.55" cy="298.4" r="1.8" fill="#000"/>
<line x1="55.95" y1="234.0" x2="86.03" y2="239.5" stroke="#000" stroke-width="1.4" stroke-dasharray="1.25 1.35"/>
<line x1="86.03" y1="239.5" x2="116.10" y2="253.0" stroke="#000" stroke-width="1.4" stroke-dasharray="1.25 1.35"/>
<line x1="116.10" y1="253.0" x2="146.18" y2="252.4" stroke="#000" stroke-width="1.4" stroke-dasharray="1.25 1.35"/>
<line x1="146.18" y1="252.4" x2="176.25" y2="251.4" stroke="#000" stroke-width="1.4" stroke-dasharray="1.25 1.35"/>
<line x1="176.25" y1="251.4" x2="206.32" y2="254.0" stroke="#000" stroke-width="1.4" stroke-dasharray="1.25 1.35"/>
<line x1="206.32" y1="254.0" x2="236.40" y2="252.8" stroke="#000" stroke-width="1.4" stroke-dasharray="1.25 1.35"/>
<line x1="236.40" y1="252.8" x2="266.48" y2="275.4" stroke="#000" stroke-width="1.4" stroke-dasharray="1.25 1.35"/>
<line x1="266.48" y1="275.4" x2="296.55" y2="321.9" stroke="#000" stroke-width="1.4" stroke-dasharray="1.25 1.35"/>
<circle cx="55.95" cy="234.0" r="1.8" fill="#000"/>
<circle cx="86.03" cy="239.5" r="1.8" fill="#000"/>
<circle cx="116.1" cy="253.0" r="1.8" fill="#000"/>
<circle cx="146.18" cy="252.4" r="1.8" fill="#000"/>
<circle cx="176.25" cy="251.4" r="1.8" fill="#000"/>
<circle cx="206.32" cy="254.0" r="1.8" fill="#000"/>
<circle cx="236.4" cy="252.8" r="1.8" fill="#000"/>
<circle cx="266.48" cy="275.4" r="1.8" fill="#000"/>
<circle cx="296.55" cy="321.9" r="1.8" fill="#000"/>
<rect x="245.5" y="197.4" width="62.8" height="38.0" fill="#fff" stroke="#5A5A5A" stroke-width="0.9"/>
<line x1="250.2" y1="211.8" x2="265.9" y2="211.8" stroke="#000" stroke-width="1.9" />
<text class="lg" x="269.2" y="213.8" font-size="5.7" font-weight="bold" fill="#000">H4X5-MSRN</text>
<line x1="250.2" y1="220.9" x2="265.9" y2="220.9" stroke="#000" stroke-width="1.9" stroke-dasharray="5 2"/>
<text class="lg" x="269.2" y="222.9" font-size="5.7" font-weight="bold" fill="#000">D20-MSRN</text>
<line x1="250.2" y1="230.0" x2="265.9" y2="230.0" stroke="#000" stroke-width="1.9" stroke-dasharray="2 1.4"/>
<text class="lg" x="269.2" y="232.0" font-size="5.7" font-weight="bold" fill="#000">linear</text>
<text x="255.1" y="205.55" font-size="5.8" font-weight="bold" font-style="italic" fill="#000" class="lg" textLength="6.3" lengthAdjust="spacingAndGlyphs">TS</text>
<text transform="translate(8.2,264.5) rotate(-90)" font-size="10.4" font-weight="bold" font-style="italic" fill="#000" stroke="#000" stroke-width="0.3" text-anchor="middle" dominant-baseline="central" textLength="11.0" lengthAdjust="spacingAndGlyphs">TS</text>
<text x="1.2" y="189.4" font-size="12.5" font-weight="bold" letter-spacing="0.4" fill="#000">(c)</text>
<rect x="382.1" y="194.7" width="270.6" height="140.4" fill="none" stroke="#C4C4C4" stroke-width="1.5"/>
<line x1="379.1" y1="335.1" x2="652.7" y2="335.1" stroke="#C4C4C4" stroke-width="1.5"/>
<line x1="397.0" y1="335.1" x2="397.0" y2="337.4" stroke="#8C8C8C" stroke-width="0.8"/>
<line x1="427.14" y1="335.1" x2="427.14" y2="337.4" stroke="#8C8C8C" stroke-width="0.8"/>
<line x1="457.28" y1="335.1" x2="457.28" y2="337.4" stroke="#8C8C8C" stroke-width="0.8"/>
<line x1="487.42" y1="335.1" x2="487.42" y2="337.4" stroke="#8C8C8C" stroke-width="0.8"/>
<line x1="517.56" y1="335.1" x2="517.56" y2="337.4" stroke="#8C8C8C" stroke-width="0.8"/>
<line x1="547.7" y1="335.1" x2="547.7" y2="337.4" stroke="#8C8C8C" stroke-width="0.8"/>
<line x1="577.84" y1="335.1" x2="577.84" y2="337.4" stroke="#8C8C8C" stroke-width="0.8"/>
<line x1="607.98" y1="335.1" x2="607.98" y2="337.4" stroke="#8C8C8C" stroke-width="0.8"/>
<line x1="638.12" y1="335.1" x2="638.12" y2="337.4" stroke="#8C8C8C" stroke-width="0.8"/>
<line x1="652.7" y1="335.1" x2="652.7" y2="337.4" stroke="#8C8C8C" stroke-width="0.8"/>
<text class="nm" stroke="#262626" x="397.0" y="349.2" font-size="8.4" fill="#262626" text-anchor="middle" textLength="4.39" lengthAdjust="spacingAndGlyphs">1</text>
<text class="nm" stroke="#262626" x="427.14" y="349.2" font-size="8.4" fill="#262626" text-anchor="middle" textLength="8.78" lengthAdjust="spacingAndGlyphs">10</text>
<text class="nm" stroke="#262626" x="457.28" y="349.2" font-size="8.4" fill="#262626" text-anchor="middle" textLength="8.78" lengthAdjust="spacingAndGlyphs">40</text>
<text class="nm" stroke="#262626" x="487.42" y="349.2" font-size="8.4" fill="#262626" text-anchor="middle" textLength="8.78" lengthAdjust="spacingAndGlyphs">80</text>
<text class="nm" stroke="#262626" x="517.56" y="349.2" font-size="8.4" fill="#262626" text-anchor="middle" textLength="13.18" lengthAdjust="spacingAndGlyphs">100</text>
<text class="nm" stroke="#262626" x="547.7" y="349.2" font-size="8.4" fill="#262626" text-anchor="middle" textLength="13.18" lengthAdjust="spacingAndGlyphs">150</text>
<text class="nm" stroke="#262626" x="577.84" y="349.2" font-size="8.4" fill="#262626" text-anchor="middle" textLength="13.18" lengthAdjust="spacingAndGlyphs">200</text>
<text class="nm" stroke="#262626" x="607.98" y="349.2" font-size="8.4" fill="#262626" text-anchor="middle" textLength="13.18" lengthAdjust="spacingAndGlyphs">350</text>
<text class="nm" stroke="#262626" x="638.12" y="349.2" font-size="8.4" fill="#262626" text-anchor="middle" textLength="13.18" lengthAdjust="spacingAndGlyphs">500</text>
<text x="455.8" y="359.8" font-size="8.6" font-weight="bold" fill="#000" stroke="#000" stroke-width="0.25" textLength="122.6" lengthAdjust="spacingAndGlyphs">Rainfall threshold (mm day<tspan font-size="5.2" dy="-3">-1</tspan><tspan dy="3">)</tspan></text>
<line x1="382.1" y1="335.1" x2="382.1" y2="194.7" stroke="#C4C4C4" stroke-width="1.5"/>
<line x1="379.1" y1="335.1" x2="382.1" y2="335.1" stroke="#9A9A9A" stroke-width="0.8"/>
<text class="nm" stroke="#262626" x="374.0" y="337.7" font-size="8.4" fill="#262626" text-anchor="end" textLength="4.39" lengthAdjust="spacingAndGlyphs">0</text>
<line x1="379.1" y1="321.1" x2="382.1" y2="321.1" stroke="#9A9A9A" stroke-width="0.8"/>
<text class="nm" stroke="#262626" x="374.0" y="323.7" font-size="8.4" fill="#262626" text-anchor="end" textLength="10.98" lengthAdjust="spacingAndGlyphs">0.1</text>
<line x1="379.1" y1="307.1" x2="382.1" y2="307.1" stroke="#9A9A9A" stroke-width="0.8"/>
<text class="nm" stroke="#262626" x="374.0" y="309.7" font-size="8.4" fill="#262626" text-anchor="end" textLength="10.98" lengthAdjust="spacingAndGlyphs">0.2</text>
<line x1="379.1" y1="293.1" x2="382.1" y2="293.1" stroke="#9A9A9A" stroke-width="0.8"/>
<text class="nm" stroke="#262626" x="374.0" y="295.7" font-size="8.4" fill="#262626" text-anchor="end" textLength="10.98" lengthAdjust="spacingAndGlyphs">0.3</text>
<line x1="379.1" y1="279.1" x2="382.1" y2="279.1" stroke="#9A9A9A" stroke-width="0.8"/>
<text class="nm" stroke="#262626" x="374.0" y="281.7" font-size="8.4" fill="#262626" text-anchor="end" textLength="10.98" lengthAdjust="spacingAndGlyphs">0.4</text>
<line x1="379.1" y1="265.1" x2="382.1" y2="265.1" stroke="#9A9A9A" stroke-width="0.8"/>
<text class="nm" stroke="#262626" x="374.0" y="267.7" font-size="8.4" fill="#262626" text-anchor="end" textLength="10.98" lengthAdjust="spacingAndGlyphs">0.5</text>
<line x1="379.1" y1="251.1" x2="382.1" y2="251.1" stroke="#9A9A9A" stroke-width="0.8"/>
<text class="nm" stroke="#262626" x="374.0" y="253.7" font-size="8.4" fill="#262626" text-anchor="end" textLength="10.98" lengthAdjust="spacingAndGlyphs">0.6</text>
<line x1="379.1" y1="237.1" x2="382.1" y2="237.1" stroke="#9A9A9A" stroke-width="0.8"/>
<text class="nm" stroke="#262626" x="374.0" y="239.7" font-size="8.4" fill="#262626" text-anchor="end" textLength="10.98" lengthAdjust="spacingAndGlyphs">0.7</text>
<line x1="379.1" y1="223.1" x2="382.1" y2="223.1" stroke="#9A9A9A" stroke-width="0.8"/>
<text class="nm" stroke="#262626" x="374.0" y="225.7" font-size="8.4" fill="#262626" text-anchor="end" textLength="10.98" lengthAdjust="spacingAndGlyphs">0.8</text>
<line x1="379.1" y1="209.1" x2="382.1" y2="209.1" stroke="#9A9A9A" stroke-width="0.8"/>
<text class="nm" stroke="#262626" x="374.0" y="211.7" font-size="8.4" fill="#262626" text-anchor="end" textLength="10.98" lengthAdjust="spacingAndGlyphs">0.9</text>
<line x1="379.1" y1="195.1" x2="382.1" y2="195.1" stroke="#9A9A9A" stroke-width="0.8"/>
<text class="nm" stroke="#262626" x="374.0" y="197.7" font-size="8.4" fill="#262626" text-anchor="end" textLength="4.39" lengthAdjust="spacingAndGlyphs">1</text>
<polyline points="397.0,225.4 427.14,255.0 457.28,291.3 487.42,308.0 517.56,312.4 547.7,315.9 577.84,311.7 607.98,308.2 638.12,304.5" fill="none" stroke="#000" stroke-width="1.45" stroke-linejoin="round"/>
<circle cx="397.0" cy="225.4" r="1.8" fill="#000"/>
<circle cx="427.14" cy="255.0" r="1.8" fill="#000"/>
<circle cx="457.28" cy="291.3" r="1.8" fill="#000"/>
<circle cx="487.42" cy="308.0" r="1.8" fill="#000"/>
<circle cx="517.56" cy="312.4" r="1.8" fill="#000"/>
<circle cx="547.7" cy="315.9" r="1.8" fill="#000"/>
<circle cx="577.84" cy="311.7" r="1.8" fill="#000"/>
<circle cx="607.98" cy="308.2" r="1.8" fill="#000"/>
<circle cx="638.12" cy="304.5" r="1.8" fill="#000"/>
<line x1="397.00" y1="246.9" x2="427.14" y2="267.4" stroke="#000" stroke-width="1.5" stroke-dasharray="4.7 4.2"/>
<line x1="427.14" y1="267.4" x2="457.28" y2="295.0" stroke="#000" stroke-width="1.5" stroke-dasharray="4.7 4.2"/>
<line x1="457.28" y1="295.0" x2="487.42" y2="310.3" stroke="#000" stroke-width="1.5" stroke-dasharray="4.7 4.2"/>
<line x1="487.42" y1="310.3" x2="517.56" y2="313.8" stroke="#000" stroke-width="1.5" stroke-dasharray="4.7 4.2"/>
<line x1="517.56" y1="313.8" x2="547.70" y2="316.8" stroke="#000" stroke-width="1.5" stroke-dasharray="4.7 4.2"/>
<line x1="547.70" y1="316.8" x2="577.84" y2="314.5" stroke="#000" stroke-width="1.5" stroke-dasharray="4.7 4.2"/>
<line x1="577.84" y1="314.5" x2="607.98" y2="320.6" stroke="#000" stroke-width="1.5" stroke-dasharray="4.7 4.2"/>
<line x1="607.98" y1="320.6" x2="638.12" y2="321.0" stroke="#000" stroke-width="1.5" stroke-dasharray="4.7 4.2"/>
<circle cx="397.0" cy="246.9" r="1.8" fill="#000"/>
<circle cx="427.14" cy="267.4" r="1.8" fill="#000"/>
<circle cx="457.28" cy="295.0" r="1.8" fill="#000"/>
<circle cx="487.42" cy="310.3" r="1.8" fill="#000"/>
<circle cx="517.56" cy="313.8" r="1.8" fill="#000"/>
<circle cx="547.7" cy="316.8" r="1.8" fill="#000"/>
<circle cx="577.84" cy="314.5" r="1.8" fill="#000"/>
<circle cx="607.98" cy="320.6" r="1.8" fill="#000"/>
<circle cx="638.12" cy="321.0" r="1.8" fill="#000"/>
<line x1="397.00" y1="234.5" x2="427.14" y2="271.2" stroke="#000" stroke-width="1.4" stroke-dasharray="1.25 1.35"/>
<line x1="427.14" y1="271.2" x2="457.28" y2="308.2" stroke="#000" stroke-width="1.4" stroke-dasharray="1.25 1.35"/>
<line x1="457.28" y1="308.2" x2="487.42" y2="319.8" stroke="#000" stroke-width="1.4" stroke-dasharray="1.25 1.35"/>
<line x1="487.42" y1="319.8" x2="517.56" y2="321.7" stroke="#000" stroke-width="1.4" stroke-dasharray="1.25 1.35"/>
<line x1="517.56" y1="321.7" x2="547.70" y2="326.4" stroke="#000" stroke-width="1.4" stroke-dasharray="1.25 1.35"/>
<line x1="547.70" y1="326.4" x2="577.84" y2="325.0" stroke="#000" stroke-width="1.4" stroke-dasharray="1.25 1.35"/>
<line x1="577.84" y1="325.0" x2="607.98" y2="321.0" stroke="#000" stroke-width="1.4" stroke-dasharray="1.25 1.35"/>
<line x1="607.98" y1="321.0" x2="638.12" y2="332.0" stroke="#000" stroke-width="1.4" stroke-dasharray="1.25 1.35"/>
<circle cx="397.0" cy="234.5" r="1.8" fill="#000"/>
<circle cx="427.14" cy="271.2" r="1.8" fill="#000"/>
<circle cx="457.28" cy="308.2" r="1.8" fill="#000"/>
<circle cx="487.42" cy="319.8" r="1.8" fill="#000"/>
<circle cx="517.56" cy="321.7" r="1.8" fill="#000"/>
<circle cx="547.7" cy="326.4" r="1.8" fill="#000"/>
<circle cx="577.84" cy="325.0" r="1.8" fill="#000"/>
<circle cx="607.98" cy="321.0" r="1.8" fill="#000"/>
<circle cx="638.12" cy="332.0" r="1.8" fill="#000"/>
<rect x="588.3" y="197.4" width="63.3" height="38.0" fill="#fff" stroke="#5A5A5A" stroke-width="0.9"/>
<line x1="594.0" y1="211.4" x2="609.7" y2="211.4" stroke="#000" stroke-width="1.9" />
<text class="lg" x="613.0" y="213.4" font-size="5.7" font-weight="bold" fill="#000">H4X5-MSRN</text>
<line x1="594.0" y1="220.9" x2="609.7" y2="220.9" stroke="#000" stroke-width="1.9" stroke-dasharray="5 2"/>
<text class="lg" x="613.0" y="222.9" font-size="5.7" font-weight="bold" fill="#000">D20-MSRN</text>
<line x1="594.0" y1="230.0" x2="609.7" y2="230.0" stroke="#000" stroke-width="1.9" stroke-dasharray="2 1.4"/>
<text class="lg" x="613.0" y="232.0" font-size="5.7" font-weight="bold" fill="#000">linear</text>
<text x="596.8" y="205.45" font-size="5.8" font-weight="bold" font-style="italic" fill="#000" class="lg" textLength="9.4" lengthAdjust="spacingAndGlyphs">FSS</text>
<text transform="translate(353.7,264.3) rotate(-90)" font-size="10.4" font-weight="bold" font-style="italic" fill="#000" stroke="#000" stroke-width="0.3" text-anchor="middle" dominant-baseline="central" textLength="16.2" lengthAdjust="spacingAndGlyphs">FSS</text>
<text x="345.4" y="189.4" font-size="12.5" font-weight="bold" letter-spacing="0.4" fill="#000">(d)</text>
</svg></body></html>
